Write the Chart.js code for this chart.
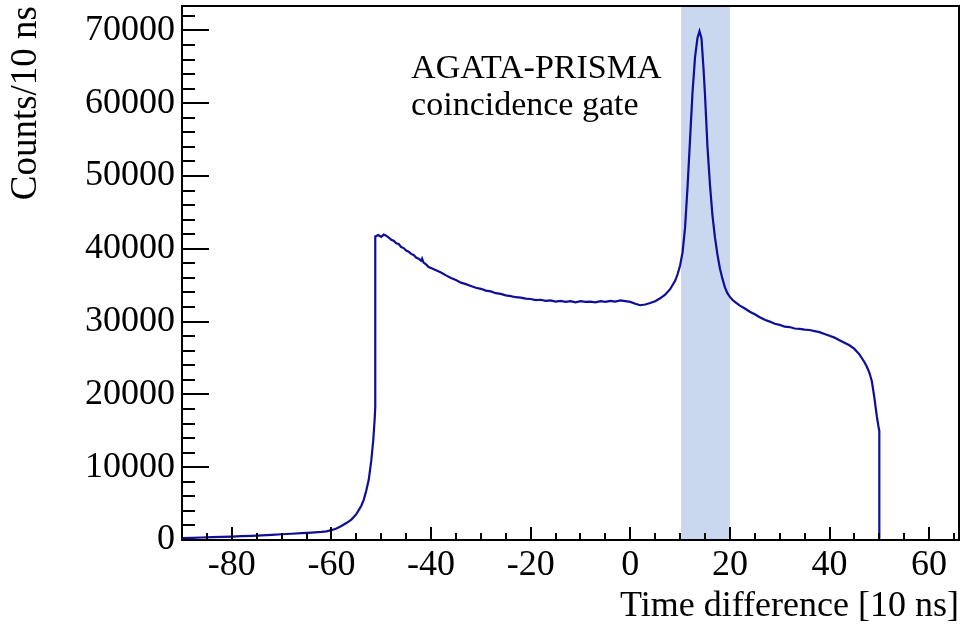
<!DOCTYPE html>
<html>
<head>
<meta charset="utf-8">
<script src="https://cdn.jsdelivr.net/npm/chart.js@4"></script>
<style>
  html, body { margin: 0; padding: 0; background: #fff; }
  #wrap { width: 962px; height: 628px; }
</style>
</head>
<body>
<div id="wrap"><canvas id="chart"></canvas></div>
<script>
// time difference (x) and counts per bin (y)
const timeDiff = [
  -90, -88, -86, -84, -82, -80, -78, -76, -74, -72, -70, -68, -66, -64, -62, -61, -60, -59, -58, -57, -56, -55, -54, -53.5, -53, -52.5, -52, -51.6, -51.3, -51.2,
  -51.2, -50.6, -50, -49.5, -49, -48.5, -48, -47.5, -47, -46.5, -46, -45.5, -45, -44.5, -44, -43.5, -43, -42.5, -42, -41.8, -41.5, -41, -40.5, -40,
  -39, -38, -37, -36, -35, -34, -33, -32, -31, -30, -29, -28, -27, -26, -25, -24, -23, -22, -21, -20, -19, -18, -17, -16, -15, -14, -13, -12, -11, -10, -9, -8, -7, -6, -5, -4, -3, -2, -1, 0,
  1, 2, 3, 4, 5, 6, 7, 8, 9, 9.5, 10, 10.5, 11, 11.5, 12, 12.5, 13, 13.5, 13.9, 14.3, 14.7, 15, 15.5, 16, 16.5, 17, 17.5, 18, 18.5, 19, 19.5, 20, 20.5, 21, 22,
  23, 24, 25, 26, 27, 28, 29, 30, 31, 32, 33, 34, 35, 36, 37, 38, 39, 40, 41, 42, 43, 44, 45, 46, 47, 47.5, 48, 48.5, 49, 49.5, 49.9, 50, 50, 58, 66
];
const counts = [
  250, 300, 340, 390, 430, 470, 520, 580, 640, 710, 790, 860, 940, 1020, 1110, 1180, 1350, 1580, 1920, 2330, 2800, 3550, 4700, 5550, 6800, 8300, 10900, 13700, 16800, 18300,
  41700, 41900, 41650, 41950, 41800, 41550, 41250, 41100, 40750, 40650, 40250, 40100, 39750, 39600, 39300, 39150, 38800, 38650, 38350, 38650, 38100, 37850, 37500, 37350,
  37050, 36750, 36350, 36000, 35700, 35350, 35150, 34900, 34650, 34500, 34250, 34150, 33900, 33800, 33600, 33500, 33350, 33300, 33150, 33100, 32950, 33000, 32850, 32900, 32750, 32850, 32700, 32800, 32650, 32800, 32700, 32750, 32650, 32800, 32700, 32850, 32750, 32900, 32800, 32700,
  32450, 32250, 32350, 32550, 32800, 33200, 33700, 34450, 35600, 36500, 37700, 39500, 42900, 48500, 55000, 61500, 66300, 69000, 69900, 68900, 64800, 61200, 54000, 48800, 44600, 41600, 39200, 37300, 35900, 34700, 33900, 33400, 33000, 32700, 32200,
  31800, 31350, 31000, 30600, 30250, 30000, 29700, 29550, 29300, 29250, 29050, 29000, 28900, 28850, 28700, 28550, 28300, 28050, 27800, 27450, 27100, 26750, 26250, 25500, 24450, 23800, 23000, 21800, 19600, 17000, 15300, 15000, 0, 0, 0
];
const xTicks = [-80, -60, -40, -20, 0, 20, 40, 60];
const yTicks = [0, 10000, 20000, 30000, 40000, 50000, 60000, 70000];
const gateRange = [10.2, 20];
const gateLabel = ['AGATA-PRISMA', 'coincidence gate'];
const xTitle = 'Time difference [10 ns]';
const yTitle = 'Counts/10 ns';

const FAMILY = '"Liberation Serif", "Times New Roman", serif';

// gate band, inward ROOT-style ticks, frame and the text label
const rootFrame = {
  id: 'rootFrame',
  beforeDatasetsDraw(chart) {
    const { ctx, chartArea: a, scales: { x } } = chart;
    const l = x.getPixelForValue(gateRange[0]);
    const r = x.getPixelForValue(gateRange[1]);
    ctx.save();
    ctx.fillStyle = '#c9d8ef';
    ctx.fillRect(l, a.top, r - l, a.bottom - a.top);
    ctx.restore();
  },
  afterDraw(chart) {
    const { ctx, chartArea: a, scales: { x, y } } = chart;
    ctx.save();
    ctx.strokeStyle = '#000';
    ctx.lineWidth = 2;
    ctx.beginPath();
    for (let v = -85; v <= 65; v += 5) {
      const px = Math.round(x.getPixelForValue(v));
      const len = v % 20 === 0 ? 13 : 7;
      ctx.moveTo(px, a.bottom);
      ctx.lineTo(px, a.bottom - len);
    }
    for (let v = 2000; v <= 72000; v += 2000) {
      const py = Math.round(y.getPixelForValue(v));
      const len = v % 10000 === 0 ? 27 : 13;
      ctx.moveTo(a.left, py);
      ctx.lineTo(a.left + len, py);
    }
    ctx.stroke();
    ctx.strokeRect(a.left, a.top, a.right - a.left, a.bottom - a.top);

    ctx.fillStyle = '#000';
    ctx.font = '34px ' + FAMILY;
    ctx.textAlign = 'left';
    ctx.textBaseline = 'alphabetic';
    const tx = x.getPixelForValue(-44);
    ctx.fillText(gateLabel[0], tx, 78);
    ctx.fillText(gateLabel[1], tx, 115);
    ctx.restore();
  }
};

new Chart(document.getElementById('chart'), {
  type: 'line',
  data: {
    datasets: [{
      data: timeDiff.map((t, i) => ({ x: t, y: counts[i] })),
      borderColor: '#0e0e98',
      borderWidth: 2.2,
      pointRadius: 0,
      tension: 0,
      fill: false
    }]
  },
  options: {
    responsive: true,
    maintainAspectRatio: false,
    animation: false,
    layout: { padding: { top: 6, right: 3, left: 0, bottom: 0 } },
    plugins: { legend: { display: false }, tooltip: { enabled: false } },
    scales: {
      x: {
        type: 'linear',
        min: -90,
        max: 66,
        grid: { display: false, drawTicks: false },
        border: { display: false },
        afterBuildTicks: s => { s.ticks = xTicks.map(v => ({ value: v })); },
        afterFit: s => { s.height = 88; s.paddingLeft = 0; s.paddingRight = 0; },
        ticks: {
          font: { family: FAMILY, size: 36 },
          color: '#000',
          padding: 4,
          maxRotation: 0,
          autoSkip: false,
          callback: v => String(v)
        },
        title: {
          display: true,
          text: xTitle,
          align: 'end',
          color: '#000',
          font: { family: FAMILY, size: 36 },
          padding: { top: 0, bottom: 0 }
        }
      },
      y: {
        type: 'linear',
        min: 0,
        max: 73350,
        grid: { display: false, drawTicks: false },
        border: { display: false },
        afterBuildTicks: s => { s.ticks = yTicks.map(v => ({ value: v })); },
        afterFit: s => { s.width = 182; s.paddingTop = 0; s.paddingBottom = 0; },
        ticks: {
          font: { family: FAMILY, size: 36 },
          color: '#000',
          padding: 7,
          autoSkip: false,
          callback: v => String(v)
        },
        title: {
          display: true,
          text: yTitle,
          align: 'end',
          color: '#000',
          font: { family: FAMILY, size: 37 },
          padding: { top: 4, bottom: 0 }
        }
      }
    }
  },
  plugins: [rootFrame]
});
</script>
</body>
</html>
